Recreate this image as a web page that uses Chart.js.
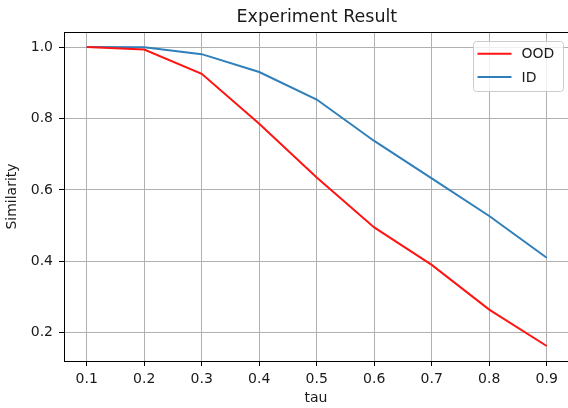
<!DOCTYPE html>
<html>
<head>
<meta charset="utf-8">
<title>Experiment Result</title>
<script src="https://cdn.jsdelivr.net/npm/chart.js@4/dist/chart.umd.min.js"></script>
<style>
    html, body { margin: 0; padding: 0; background: #fff; }
    #wrap { width: 568px; height: 408px; position: relative; }
</style>
</head>
<body>
<div id="wrap"><canvas id="resultChart"></canvas></div>
<script>
// values
const taus = [0.1, 0.2, 0.3, 0.4, 0.5, 0.6, 0.7, 0.8, 0.9];
const oodSimilarity = [1.0, 0.993, 0.925, 0.785, 0.635, 0.495, 0.39, 0.265, 0.163];
const idSimilarity = [1.0, 0.999, 0.98, 0.93, 0.853, 0.737, 0.632, 0.527, 0.41];
const yTicks = [0.2, 0.4, 0.6, 0.8, 1.0];
const chartTitle = 'Experiment Result';

const FONT = "'DejaVu Sans', sans-serif";
const TEXT = '#1a1a1a';

Chart.defaults.font.family = FONT;
Chart.defaults.color = TEXT;

function toPoints(xs, ys) {
    return xs.map((x, i) => ({ x: x, y: ys[i] }));
}

// title centred over the axes, top spine, and a matplotlib-style legend inside the axes
const framePlugin = {
    id: 'frame',
    afterDatasetsDraw(chart) {
        const { ctx, chartArea } = chart;
        ctx.save();

        ctx.fillStyle = TEXT;
        ctx.font = '17.5px ' + FONT;
        ctx.textAlign = 'center';
        ctx.textBaseline = 'middle';
        ctx.fillText(chartTitle, (chartArea.left + 569.7) / 2, 17);

        ctx.strokeStyle = '#000';
        ctx.lineWidth = 1;
        ctx.beginPath();
        ctx.moveTo(chartArea.left, Math.round(chartArea.top) + 0.5);
        ctx.lineTo(chartArea.right, Math.round(chartArea.top) + 0.5);
        ctx.stroke();

        const boxW = 90, boxH = 50;
        const bx = Math.round(chartArea.right - 95) + 0.5;
        const by = Math.round(chartArea.top + 8.7) + 0.5;
        ctx.beginPath();
        ctx.roundRect(bx, by, boxW, boxH, 3);
        ctx.fillStyle = 'rgba(255,255,255,0.8)';
        ctx.fill();
        ctx.strokeStyle = '#cccccc';
        ctx.stroke();

        ctx.font = '14px ' + FONT;
        ctx.textAlign = 'left';
        chart.data.datasets.forEach((ds, i) => {
            const rowY = by + 12.3 + i * 23.3;
            ctx.strokeStyle = ds.borderColor;
            ctx.lineWidth = 2;
            ctx.beginPath();
            ctx.moveTo(bx + 4, rowY);
            ctx.lineTo(bx + 38, rowY);
            ctx.stroke();
            ctx.fillStyle = TEXT;
            ctx.fillText(ds.label, bx + 48, rowY + 1);
        });
        ctx.restore();
    }
};

new Chart(document.getElementById('resultChart'), {
    type: 'line',
    data: {
        datasets: [
            {
                label: 'OOD',
                data: toPoints(taus, oodSimilarity),
                borderColor: '#ff1414',
                borderWidth: 2,
                pointRadius: 0,
                tension: 0
            },
            {
                label: 'ID',
                data: toPoints(taus, idSimilarity),
                borderColor: '#2f7fbb',
                borderWidth: 2,
                pointRadius: 0,
                tension: 0
            }
        ]
    },
    options: {
        responsive: true,
        maintainAspectRatio: false,
        animation: false,
        events: [],
        layout: { padding: { top: 32, left: 0, right: 0, bottom: 0 } },
        plugins: {
            legend: { display: false },
            tooltip: { enabled: false },
            title: { display: false }
        },
        scales: {
            x: {
                type: 'linear',
                min: 0.0605,
                max: 0.937,
                afterBuildTicks: (scale) => { scale.ticks = taus.map((v) => ({ value: v })); },
                afterFit: (scale) => { scale.height = 47; },
                ticks: {
                    font: { size: 14 },
                    color: TEXT,
                    padding: 5,
                    maxRotation: 0,
                    callback: (v) => v.toFixed(1)
                },
                grid: { color: '#b0b0b0', lineWidth: 1, tickLength: 5, tickColor: '#000' },
                border: { display: true, color: '#000', width: 1 },
                title: {
                    display: true,
                    text: 'tau',
                    color: TEXT,
                    font: { size: 14 },
                    padding: { top: 0, bottom: 1 }
                }
            },
            y: {
                type: 'linear',
                min: 0.121,
                max: 1.042,
                afterBuildTicks: (scale) => { scale.ticks = yTicks.map((v) => ({ value: v })); },
                afterFit: (scale) => { scale.width = 64; },
                ticks: {
                    font: { size: 14 },
                    color: TEXT,
                    padding: 6,
                    callback: (v) => v.toFixed(1)
                },
                grid: { color: '#b0b0b0', lineWidth: 1, tickLength: 5, tickColor: '#000' },
                border: { display: true, color: '#000', width: 1 },
                title: {
                    display: true,
                    text: 'Similarity',
                    color: TEXT,
                    font: { size: 14 },
                    padding: { top: 3.5, bottom: 0 }
                }
            }
        }
    },
    plugins: [framePlugin]
});
</script>
</body>
</html>
